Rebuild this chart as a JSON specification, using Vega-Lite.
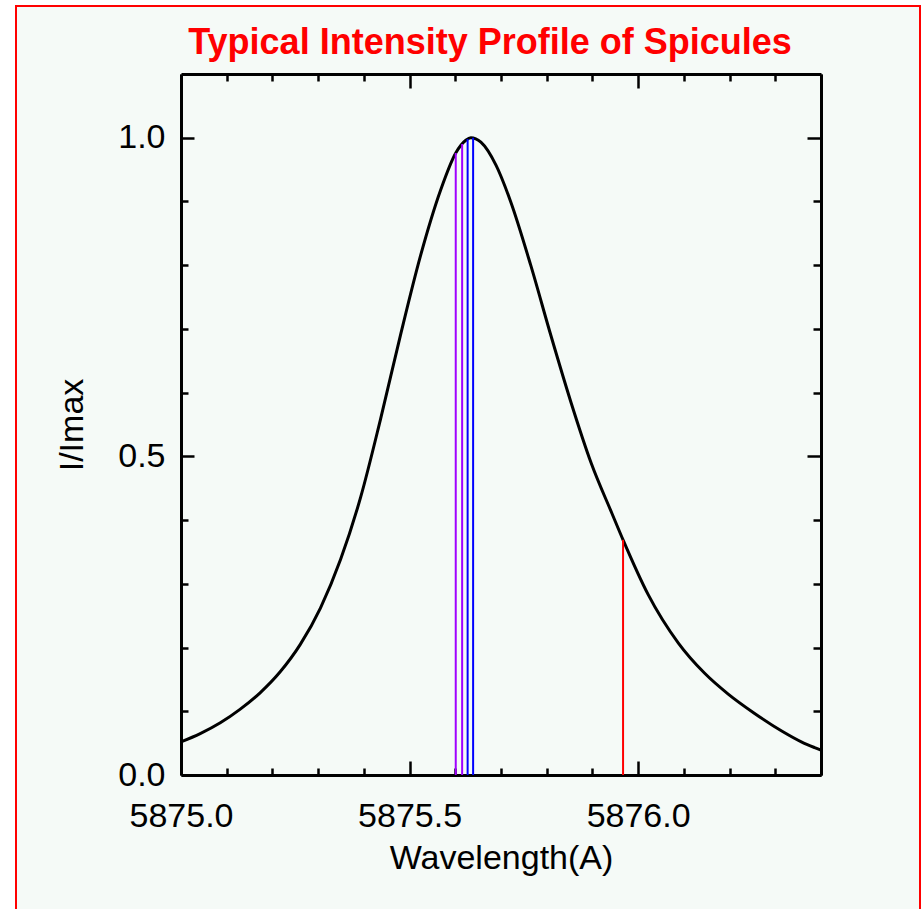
{
  "$schema": "https://vega.github.io/schema/vega-lite/v6.json",
  "autosize": "none",
  "padding": {"left": 16, "top": 6, "right": 4, "bottom": -2},
  "width": 904,
  "height": 905,
  "background": "#ffffff",
  "config": {
    "view": {"stroke": "#ff0000", "strokeWidth": 2, "fill": "#f5faf7"},
    "axis": {
      "domainColor": "#000000", "domainWidth": 3, "tickColor": "#000000", "tickWidth": 2.5,
      "labelFont": "Liberation Sans", "labelFontSize": 34, "labelColor": "#000000",
      "titleFont": "Liberation Sans", "titleFontSize": 34, "titleFontWeight": "normal", "titleColor": "#000000",
      "grid": false
    }
  },
  "title": {
    "text": "Typical Intensity Profile of Spicules",
    "color": "#ff0000", "font": "Liberation Sans", "fontWeight": "bold", "fontSize": 36,
    "anchor": "middle", "frame": "group", "dx": 22, "offset": -84, "baseline": "alphabetic"
  },
  "datasets": {
    "profile": [
      {"w": 5875.000, "I": 0.052},
      {"w": 5875.042, "I": 0.065},
      {"w": 5875.086, "I": 0.082},
      {"w": 5875.129, "I": 0.103},
      {"w": 5875.173, "I": 0.129},
      {"w": 5875.217, "I": 0.162},
      {"w": 5875.261, "I": 0.205},
      {"w": 5875.305, "I": 0.262},
      {"w": 5875.349, "I": 0.338},
      {"w": 5875.393, "I": 0.436},
      {"w": 5875.436, "I": 0.557},
      {"w": 5875.480, "I": 0.690},
      {"w": 5875.524, "I": 0.815},
      {"w": 5875.568, "I": 0.918},
      {"w": 5875.601, "I": 0.976},
      {"w": 5875.623, "I": 0.996},
      {"w": 5875.634, "I": 1.000},
      {"w": 5875.656, "I": 0.993},
      {"w": 5875.689, "I": 0.957},
      {"w": 5875.721, "I": 0.900},
      {"w": 5875.765, "I": 0.800},
      {"w": 5875.809, "I": 0.690},
      {"w": 5875.853, "I": 0.585},
      {"w": 5875.897, "I": 0.490},
      {"w": 5875.943, "I": 0.410},
      {"w": 5875.967, "I": 0.369},
      {"w": 5876.022, "I": 0.283},
      {"w": 5876.088, "I": 0.207},
      {"w": 5876.145, "I": 0.160},
      {"w": 5876.197, "I": 0.127},
      {"w": 5876.254, "I": 0.097},
      {"w": 5876.314, "I": 0.069},
      {"w": 5876.357, "I": 0.052},
      {"w": 5876.386, "I": 0.043},
      {"w": 5876.400, "I": 0.039}
    ],
    "marks": [
      {"w": 5875.601, "top": 0.976, "kind": "p1"},
      {"w": 5875.615, "top": 0.990, "kind": "p2"},
      {"w": 5875.627, "top": 0.998, "kind": "b1"},
      {"w": 5875.639, "top": 1.000, "kind": "b2"},
      {"w": 5875.967, "top": 0.369, "kind": "r"}
    ]
  },
  "layer": [
    {
      "data": {"name": "profile"},
      "mark": {"type": "line", "color": "#000000", "strokeWidth": 3, "interpolate": "monotone", "clip": true},
      "encoding": {
        "x": {
          "field": "w", "type": "quantitative",
          "scale": {"domain": [5875.0, 5876.4], "range": [165, 805], "nice": false, "zero": false},
          "axis": {
            "orient": "bottom", "offset": -136,
            "values": [5875.0, 5875.1, 5875.2, 5875.3, 5875.4, 5875.5, 5875.6, 5875.7, 5875.8, 5875.9, 5876.0, 5876.1, 5876.2, 5876.3, 5876.4],
            "tickSize": {"condition": {"test": "abs(datum.value*2 - round(datum.value*2)) < 0.001", "value": -14}, "value": -7},
            "labelExpr": "abs(datum.value*2 - round(datum.value*2)) < 0.001 ? format(datum.value, '.1f') : ''",
            "labelPadding": 38, "labelFlush": false, "labelOverlap": false,
            "title": "Wavelength(A)", "titlePadding": 1
          }
        },
        "y": {
          "field": "I", "type": "quantitative",
          "scale": {"domain": [0, 1.1], "range": [769, 68], "nice": false, "zero": false},
          "axis": {
            "orient": "left", "offset": -165,
            "values": [0, 0.1, 0.2, 0.3, 0.4, 0.5, 0.6, 0.7, 0.8, 0.9, 1.0],
            "tickSize": {"condition": {"test": "abs(datum.value*2 - round(datum.value*2)) < 0.001", "value": -13}, "value": -7},
            "labelExpr": "abs(datum.value*2 - round(datum.value*2)) < 0.001 ? format(datum.value, '.1f') : ''",
            "labelPadding": 29, "labelFlush": false, "labelOverlap": false,
            "title": "I/Imax", "titlePadding": 28
          }
        }
      }
    },
    {
      "data": {"name": "marks"},
      "mark": {"type": "rule", "strokeWidth": 2},
      "encoding": {
        "x": {
          "field": "w", "type": "quantitative",
          "axis": {
            "orient": "top", "offset": -68,
            "values": [5875.0, 5875.1, 5875.2, 5875.3, 5875.4, 5875.5, 5875.6, 5875.7, 5875.8, 5875.9, 5876.0, 5876.1, 5876.2, 5876.3, 5876.4],
            "tickSize": {"condition": {"test": "abs(datum.value*2 - round(datum.value*2)) < 0.001", "value": -14}, "value": -7},
            "labels": false, "title": null
          }
        },
        "y": {
          "field": "top", "type": "quantitative",
          "axis": {
            "orient": "right", "offset": -99,
            "values": [0, 0.1, 0.2, 0.3, 0.4, 0.5, 0.6, 0.7, 0.8, 0.9, 1.0],
            "tickSize": {"condition": {"test": "abs(datum.value*2 - round(datum.value*2)) < 0.001", "value": -14}, "value": -8},
            "labels": false, "title": null
          }
        },
        "y2": {"datum": 0},
        "color": {
          "field": "kind", "type": "nominal", "legend": null,
          "scale": {"domain": ["p1", "p2", "b1", "b2", "r"], "range": ["#a000ff", "#a000ff", "#0000ff", "#0000ff", "#ff0000"]}
        }
      }
    }
  ],
  "resolve": {"axis": {"x": "independent", "y": "independent"}}
}
